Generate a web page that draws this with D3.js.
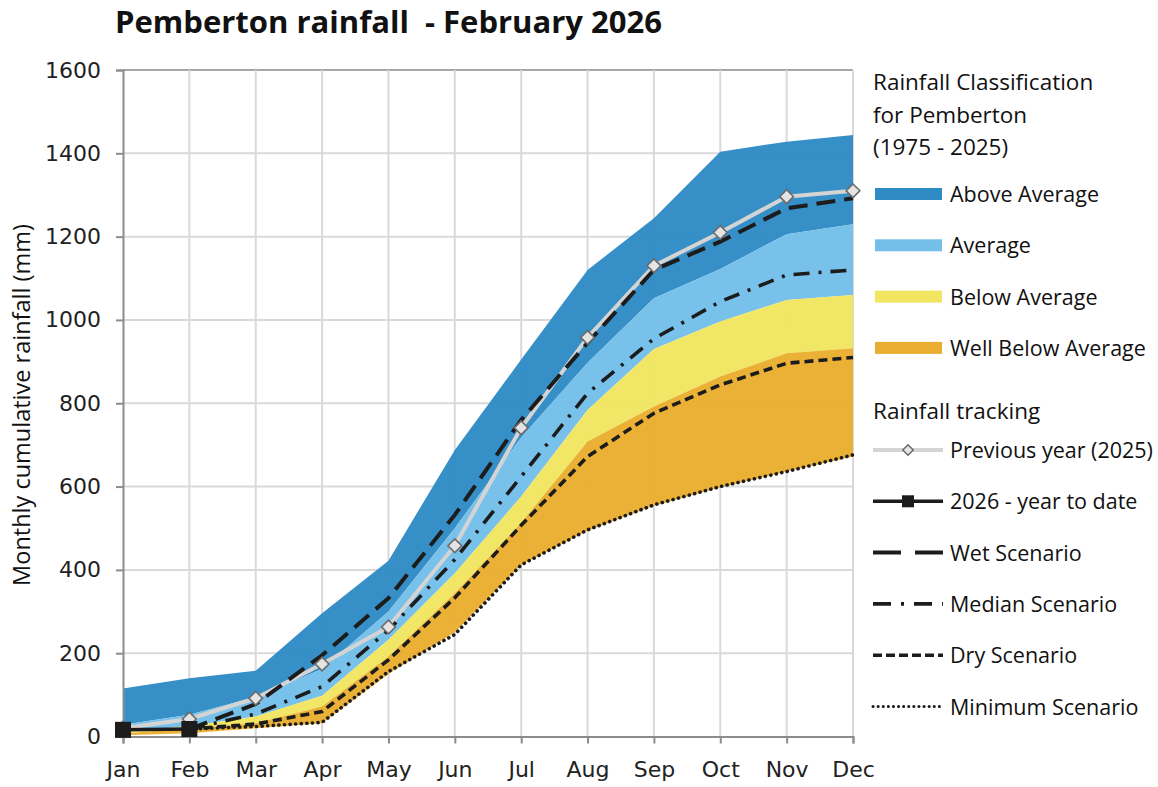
<!DOCTYPE html>
<html>
<head>
<meta charset="utf-8">
<title>Pemberton rainfall - February 2026</title>
<script src="https://d3js.org/d3.v7.min.js"></script>
<style>
  body { margin: 0; background: white; }
  .axis text { font-family: 'DejaVu Sans', Verdana, sans-serif; fill: #222; }
  .narrow { font-family: 'Open Sans', sans-serif; fill: #111; }
</style>
</head>
<body>
<div id="chart"></div>
<script>
var width = 1158, height = 787;

// months along the x axis
var months = ["Jan","Feb","Mar","Apr","May","Jun","Jul","Aug","Sep","Oct","Nov","Dec"];

// band boundaries (mm)
var bandBottom   = [3, 8, 20, 32, 150, 250, 412, 494, 554, 598, 636, 672];
var wellBelowTop = [7, 20, 32, 72, 192, 344, 513, 708, 792, 864, 920, 932];
var belowTop     = [10, 25, 48, 98, 232, 392, 576, 784, 930, 996, 1048, 1060];
var averageTop   = [28, 52, 95, 162, 300, 500, 718, 897, 1052, 1122, 1206, 1230];
var aboveTop     = [115, 140, 158, 296, 422, 688, 905, 1120, 1244, 1404, 1428, 1444];

// tracking lines
var prevYear = [20, 42, 92, 174, 263, 458, 741, 958, 1130, 1210, 1296, 1310];
var ytd      = [16, 18];
var wetScen    = [null, 18, 78, 195, 332, 532, 760, 945, 1120, 1188, 1268, 1292];
var medianScen = [null, 18, 54, 120, 255, 425, 624, 824, 955, 1044, 1108, 1120];
var dryScen    = [null, 18, 30, 60, 184, 333, 507, 672, 776, 844, 896, 910];
var minScen    = [null, 18, 24, 34, 156, 245, 412, 496, 556, 600, 636, 676];

var yTicks = [0, 200, 400, 600, 800, 1000, 1200, 1400, 1600];

var colours = {
  above: "#2f8bc4",
  average: "#74bfea",
  below: "#f2e562",
  wellBelow: "#e9ae30"
};

var svg = d3.select("#chart").append("svg").attr("width", width).attr("height", height);

var x = d3.scalePoint().domain(months).range([123, 853]);
var y = d3.scaleLinear().domain([0, 1600]).range([736.5, 70]);

// gridlines
svg.append("g").selectAll("line").data(yTicks.slice(1)).enter().append("line")
  .attr("x1", 123).attr("x2", 853)
  .attr("y1", function(d) { return y(d); }).attr("y2", function(d) { return y(d); })
  .attr("stroke", function(d) { return d === 1600 ? "#a6a6a6" : "#d9d9d9"; })
  .attr("stroke-width", 2);
svg.append("g").selectAll("line").data(months.slice(1)).enter().append("line")
  .attr("x1", function(d) { return x(d); }).attr("x2", function(d) { return x(d); })
  .attr("y1", y(0)).attr("y2", y(1600))
  .attr("stroke", "#d9d9d9").attr("stroke-width", 2);

// classification bands
var bands = [
  { lo: averageTop,   hi: aboveTop,     c: colours.above },
  { lo: belowTop,     hi: averageTop,   c: colours.average },
  { lo: wellBelowTop, hi: belowTop,     c: colours.below },
  { lo: bandBottom,   hi: wellBelowTop, c: colours.wellBelow }
];
var area = d3.area()
  .x(function(d, i) { return x(months[i]); })
  .y0(function(d) { return y(d[0]); })
  .y1(function(d) { return y(d[1]); });
bands.forEach(function(b) {
  var pts = b.lo.map(function(v, i) { return [v, b.hi[i]]; });
  svg.append("path").attr("d", area(pts)).attr("fill", b.c).attr("fill-opacity", 0.97);
});

// axes
var yAxis = svg.append("g").attr("class", "axis").attr("transform", "translate(123,0)")
  .call(d3.axisLeft(y).tickValues(yTicks).tickSize(7).tickPadding(15).tickFormat(d3.format("d")));
var xAxis = svg.append("g").attr("class", "axis").attr("transform", "translate(0," + y(0) + ")")
  .call(d3.axisBottom(x).tickSize(7).tickPadding(18));
[yAxis, xAxis].forEach(function(a) {
  a.select(".domain").attr("stroke", "#8c8c8c").attr("stroke-width", 2);
  a.selectAll(".tick line").attr("stroke", "#8c8c8c").attr("stroke-width", 2);
  a.selectAll("text").style("font-size", "22px");
});

// lines
var line = d3.line()
  .defined(function(d) { return d != null; })
  .x(function(d, i) { return x(months[i]); })
  .y(function(d) { return y(d); });

var ink = "#1c1c1c";
var scen = [
  { data: minScen,    dash: "0.1,5.5", w: 3.6, cap: "round" },
  { data: dryScen,    dash: "9,5",     w: 3.6, cap: "butt" },
  { data: medianScen, dash: "16,9,3,9", w: 3.6, cap: "butt" },
  { data: wetScen,    dash: "19,9",    w: 4,   cap: "butt" }
];

svg.append("path").attr("d", line(prevYear)).attr("fill", "none")
  .attr("stroke", "#d4d4d4").attr("stroke-width", 4);

scen.forEach(function(s) {
  svg.append("path").attr("d", line(s.data)).attr("fill", "none")
    .attr("stroke", ink).attr("stroke-width", s.w)
    .attr("stroke-dasharray", s.dash).attr("stroke-linecap", s.cap);
});

svg.append("g").selectAll("path").data(prevYear).enter().append("path")
  .attr("d", d3.symbol().type(d3.symbolDiamond2).size(120))
  .attr("transform", function(d, i) { return "translate(" + x(months[i]) + "," + y(d) + ")"; })
  .attr("fill", "#e4e4e4").attr("stroke", "#6b6b6b").attr("stroke-width", 1.6);

svg.append("path").attr("d", line(ytd)).attr("fill", "none")
  .attr("stroke", ink).attr("stroke-width", 3.5);
svg.append("g").selectAll("rect").data(ytd).enter().append("rect")
  .attr("x", function(d, i) { return x(months[i]) - 8; })
  .attr("y", function(d) { return y(d) - 8; })
  .attr("width", 16).attr("height", 16).attr("fill", ink);

// title and axis label
svg.append("text").attr("class", "narrow").attr("x", 115).attr("y", 33)
  .style("font-size", "31px").style("font-weight", "bold").style("white-space", "pre")
  .attr("textLength", 547).attr("lengthAdjust", "spacingAndGlyphs")
  .text("Pemberton rainfall  - February 2026");

svg.append("text").attr("class", "narrow")
  .attr("transform", "translate(30,405) rotate(-90)")
  .attr("text-anchor", "middle").style("font-size", "23.5px")
  .text("Monthly cumulative rainfall (mm)");

// legend
var lx = 873, fs = "21.5px";
var legend = svg.append("g").attr("class", "legend");
["Rainfall Classification", "for Pemberton", "(1975 - 2025)"].forEach(function(t, i) {
  legend.append("text").attr("class", "narrow").attr("x", lx).attr("y", 90 + i * 32.5)
    .style("font-size", "22.5px").text(t);
});

var bandLegend = [
  { name: "Above Average", c: colours.above },
  { name: "Average", c: colours.average },
  { name: "Below Average", c: colours.below },
  { name: "Well Below Average", c: colours.wellBelow }
];
bandLegend.forEach(function(b, i) {
  var cy = 194 + i * 51.3;
  legend.append("rect").attr("x", 875).attr("y", cy - 6).attr("width", 67).attr("height", 12).attr("fill", b.c);
  legend.append("text").attr("class", "narrow").attr("x", 950).attr("y", cy + 8)
    .style("font-size", fs).text(b.name);
});

legend.append("text").attr("class", "narrow").attr("x", lx).attr("y", 419)
  .style("font-size", "22.5px").text("Rainfall tracking");

var lineLegend = [
  { name: "Previous year (2025)", type: "prev" },
  { name: "2026 - year to date", type: "ytd" },
  { name: "Wet Scenario", dash: "28,14", w: 4, cap: "butt" },
  { name: "Median Scenario", dash: "18,10,3,10", w: 3.6, cap: "butt" },
  { name: "Dry Scenario", dash: "9,4", w: 3.6, cap: "butt" },
  { name: "Minimum Scenario", dash: "0.1,5", w: 3, cap: "round" }
];
lineLegend.forEach(function(l, i) {
  var cy = 450 + i * 51.3;
  var g = legend.append("g");
  if (l.type === "prev") {
    g.append("line").attr("x1", 873).attr("x2", 943).attr("y1", cy).attr("y2", cy)
      .attr("stroke", "#d4d4d4").attr("stroke-width", 4);
    g.append("path").attr("d", d3.symbol().type(d3.symbolDiamond2).size(70))
      .attr("transform", "translate(908," + cy + ")")
      .attr("fill", "#e4e4e4").attr("stroke", "#6b6b6b").attr("stroke-width", 1.5);
  } else if (l.type === "ytd") {
    g.append("line").attr("x1", 873).attr("x2", 943).attr("y1", cy).attr("y2", cy)
      .attr("stroke", ink).attr("stroke-width", 3.5);
    g.append("rect").attr("x", 902).attr("y", cy - 6).attr("width", 12).attr("height", 12).attr("fill", ink);
  } else {
    g.append("line").attr("x1", 873).attr("x2", 943).attr("y1", cy).attr("y2", cy)
      .attr("stroke", ink).attr("stroke-width", l.w)
      .attr("stroke-dasharray", l.dash).attr("stroke-linecap", l.cap);
  }
  g.append("text").attr("class", "narrow").attr("x", 950).attr("y", cy + 8)
    .style("font-size", fs).text(l.name);
});
</script>
</body>
</html>
